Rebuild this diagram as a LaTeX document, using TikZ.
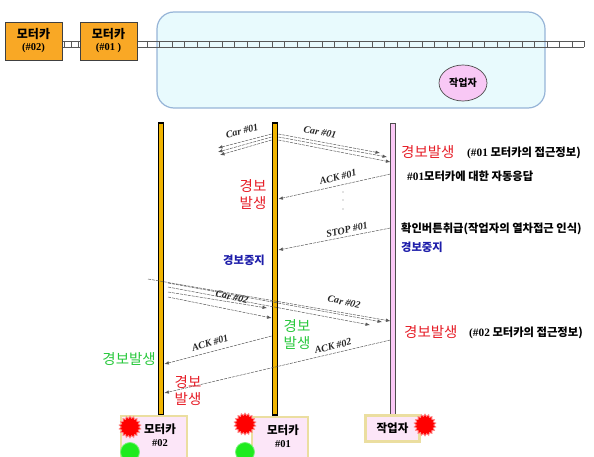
\documentclass[tikz,border=0pt]{standalone}
\usepackage{fontspec}
\setmainfont{Liberation Serif}
\newfontfamily\kr{Noto Sans CJK KR}
\usetikzlibrary{shapes.geometric,arrows.meta}
\definecolor{carorange}{RGB}{249,168,37}
\definecolor{zonefill}{RGB}{232,250,253}
\definecolor{zoneedge}{RGB}{150,180,215}
\definecolor{workerpink}{RGB}{248,200,245}
\definecolor{lifeyellow}{RGB}{240,180,0}
\definecolor{lifepink}{RGB}{250,200,245}
\definecolor{boxpink}{RGB}{252,230,248}
\definecolor{boxedge}{RGB}{235,222,160}
\definecolor{lampgreen}{RGB}{30,235,30}
\definecolor{alarmred}{RGB}{230,30,40}
\definecolor{alarmgreen}{RGB}{40,200,60}
\definecolor{stopblue}{RGB}{30,30,170}
\tikzset{
 carbox/.style={draw=black!75, line width=0.8pt, fill=carorange, minimum width=57pt, minimum height=38pt, align=center, inner sep=1pt},
 rail/.style={draw=black!65, line width=0.7pt},
 lifeY/.style={draw=black, line width=1.3pt, fill=lifeyellow, minimum width=5.5pt, minimum height=292pt, inner sep=0pt},
 lifeP/.style={draw=black!70, line width=0.6pt, fill=lifepink, minimum width=4.5pt, minimum height=292pt, inner sep=0pt},
 botbox/.style={draw=boxedge, line width=2.5pt, fill=boxpink, inner sep=1pt, align=center, font=\kr\bfseries\fontsize{11.5}{14}\selectfont},
 burst/.style={star, star points=18, star point ratio=1.25, fill=red, draw=red!45, line width=0.8pt, minimum size=22pt, inner sep=0pt},
 greenlamp/.style={circle, fill=lampgreen, draw=lampgreen!60, line width=0.8pt, minimum size=19pt, inner sep=0pt},
 msg/.style={draw=black!65, line width=0.5pt, dash pattern=on 3pt off 1pt, -{Latex[length=4.5pt,width=3.5pt]}},
 msglabel/.style={font=\fontsize{10}{11}\selectfont\bfseries\itshape, inner sep=0pt, text=black!85},
 alarm/.style={font=\kr\fontsize{14.5}{17}\selectfont, align=center, inner sep=0pt},
 note/.style={font=\kr\bfseries\fontsize{11.3}{13}\selectfont, inner sep=0pt, anchor=west},
 dotmark/.style={circle, fill=black!50, inner sep=0pt, minimum size=1.2pt},
}
\begin{document}
\begin{tikzpicture}[x=1pt,y=-1pt]
\useasboundingbox (0,0) rectangle (594,457);

% work zone
\node[draw=zoneedge, line width=1.2pt, fill=zonefill, rounded corners=17pt, minimum width=388pt, minimum height=96pt] (zone) at (351,60) {};

% rail
\draw[rail] (62,41) -- (80,41) (62,47) -- (80,47);
\draw[rail] (137,41) -- (584,41) (137,47) -- (584,47);
\foreach \x in {64,71,78} \draw[rail] (\x,41) -- (\x,47);
\foreach \x in {147,159.5,...,585} \draw[rail] (\x,41) -- (\x,47);

% worker ellipse
\node[ellipse, draw=black!70, line width=0.7pt, fill=workerpink, minimum width=48pt, minimum height=36pt, inner sep=0pt, font=\kr\bfseries\fontsize{10}{11}\selectfont] (worker) at (463,83) {작업자};

% motor cars (top)
\node[carbox] (car2) at (33.5,41) {{\kr\bfseries\fontsize{12}{14}\selectfont 모터카}\\{\bfseries\fontsize{10.5}{12}\selectfont (\#02)}};
\node[carbox] (car1) at (108.5,41) {{\kr\bfseries\fontsize{12}{14}\selectfont 모터카}\\{\bfseries\fontsize{10.5}{12}\selectfont (\#01 )}};

% lifelines
\node[lifeY] (L1) at (161,269) {};
\node[lifeY] (L2) at (275,269) {};
\node[lifeP] (L3) at (393,269) {};

% free ends
\coordinate (fl1) at (218,148);
\coordinate (fl2) at (218,152);
\coordinate (fl3) at (220,155);
\coordinate (fr1) at (380,153);
\coordinate (fr2) at (387,157);
\coordinate (s1) at (148,279);
\coordinate (s2) at (168,283);
\coordinate (s3) at (168,287);
\coordinate (s4) at (168,292);
\coordinate (s5) at (168,297);
\coordinate (e2) at (382,322);
\coordinate (e3) at (370,325);
\coordinate (e4) at (267,308);

% Car #01 messages
\draw[msg] (L2.west |- 0,134) -- (fl1);
\draw[msg] (L2.west |- 0,137) -- (fl2);
\draw[msg] (L2.west |- 0,140) -- (fl3);
\draw[msg] (L2.east |- 0,134) -- (fr1);
\draw[msg] (L2.east |- 0,137) -- (fr2);
\draw[msg] (L2.east |- 0,140) -- (L3.west |- 0,162);
\node[msglabel, rotate=14] (lc1a) at (242,131) {Car \#01};
\node[msglabel, rotate=-11] (lc1b) at (320,132) {Car \#01};

% ACK / STOP #01
\draw[msg] (L3.west |- 0,174) -- (L2.east |- 0,199);
\node[msglabel, rotate=14] (lack1) at (338,177) {ACK \#01};
\node[dotmark] (d1) at (343,192) {};
\node[dotmark] (d2) at (343,200) {};
\node[dotmark] (d3) at (343,209) {};
\draw[msg] (L3.west |- 0,228) -- (L2.east |- 0,250);
\node[msglabel, rotate=13] (lstop) at (347,230) {STOP \#01};

% Car #02 messages
\draw[msg] (s1) -- (L3.west |- 0,321);
\draw[msg] (s2) -- (e2);
\draw[msg] (s3) -- (e3);
\draw[msg] (s4) -- (e4);
\draw[msg] (s5) -- (L2.west |- 0,318);
\node[msglabel, rotate=-14] (lc2a) at (232,297) {Car \#02};
\node[msglabel, rotate=-13] (lc2b) at (344,302) {Car \#02};

% ACK messages (second phase)
\draw[msg] (L2.west |- 0,336) -- (L1.east |- 0,364);
\node[msglabel, rotate=17] (lack1b) at (210,343) {ACK \#01};
\draw[msg] (L3.west |- 0,340) -- (L1.east |- 0,393);
\node[msglabel, rotate=14] (lack2) at (333,346) {ACK \#02};

% right side notes
\node[alarm, anchor=west, text=alarmred] (r1) at (401,152) {경보발생};
\node[note] (r1b) at (467,153) {{\rmfamily\bfseries (\#01} 모터카의 접근정보)};
\node[note] (r2) at (407,176) {{\rmfamily\bfseries\#01}모터카에 대한 자동응답};
\node[note] (r3) at (401,229) {확인버튼취급(작업자의 열차접근 인식)};
\node[note, text=stopblue] (r4) at (401,247) {경보중지};
\node[alarm, anchor=west, text=alarmred] (r5) at (404,332) {경보발생};
\node[note] (r5b) at (469,333) {{\rmfamily\bfseries (\#02} 모터카의 접근정보)};

% lifeline-side alarms
\node[alarm, text=alarmred] (a1) at (253,195) {경보\\발생};
\node[note, anchor=center, text=stopblue] (a2) at (244,260) {경보중지};
\node[alarm, text=alarmgreen] (a3) at (297,335) {경보\\발생};
\node[alarm, anchor=east, text=alarmgreen] (a4) at (156,359) {경보발생};
\node[alarm, text=alarmred] (a5) at (188,391) {경보\\발생};

% bottom boxes
\node[botbox, minimum width=66pt, minimum height=42pt] (B1) at (154,437) {\hspace*{12pt}\begin{tabular}{@{}c@{}}모터카\\[-1pt]{\rmfamily\bfseries\fontsize{10.5}{12}\selectfont\#02}\end{tabular}};
\node[botbox, minimum width=56pt, minimum height=42pt] (B2) at (280,438) {\hspace*{6pt}\begin{tabular}{@{}c@{}}모터카\\[-1pt]{\rmfamily\bfseries\fontsize{10.5}{12}\selectfont\#01}\end{tabular}};
\node[botbox, minimum width=54pt, minimum height=26pt] (B3) at (392.5,428.5) {작업자};

% lamps
\node[burst] (lr1) at (130,427) {};
\node[greenlamp] (lg1) at (130,452) {};
\node[burst] (lr2) at (245,424) {};
\node[greenlamp] (lg2) at (245,452) {};
\node[burst] (lr3) at (425,425) {};
\end{tikzpicture}
\end{document}
